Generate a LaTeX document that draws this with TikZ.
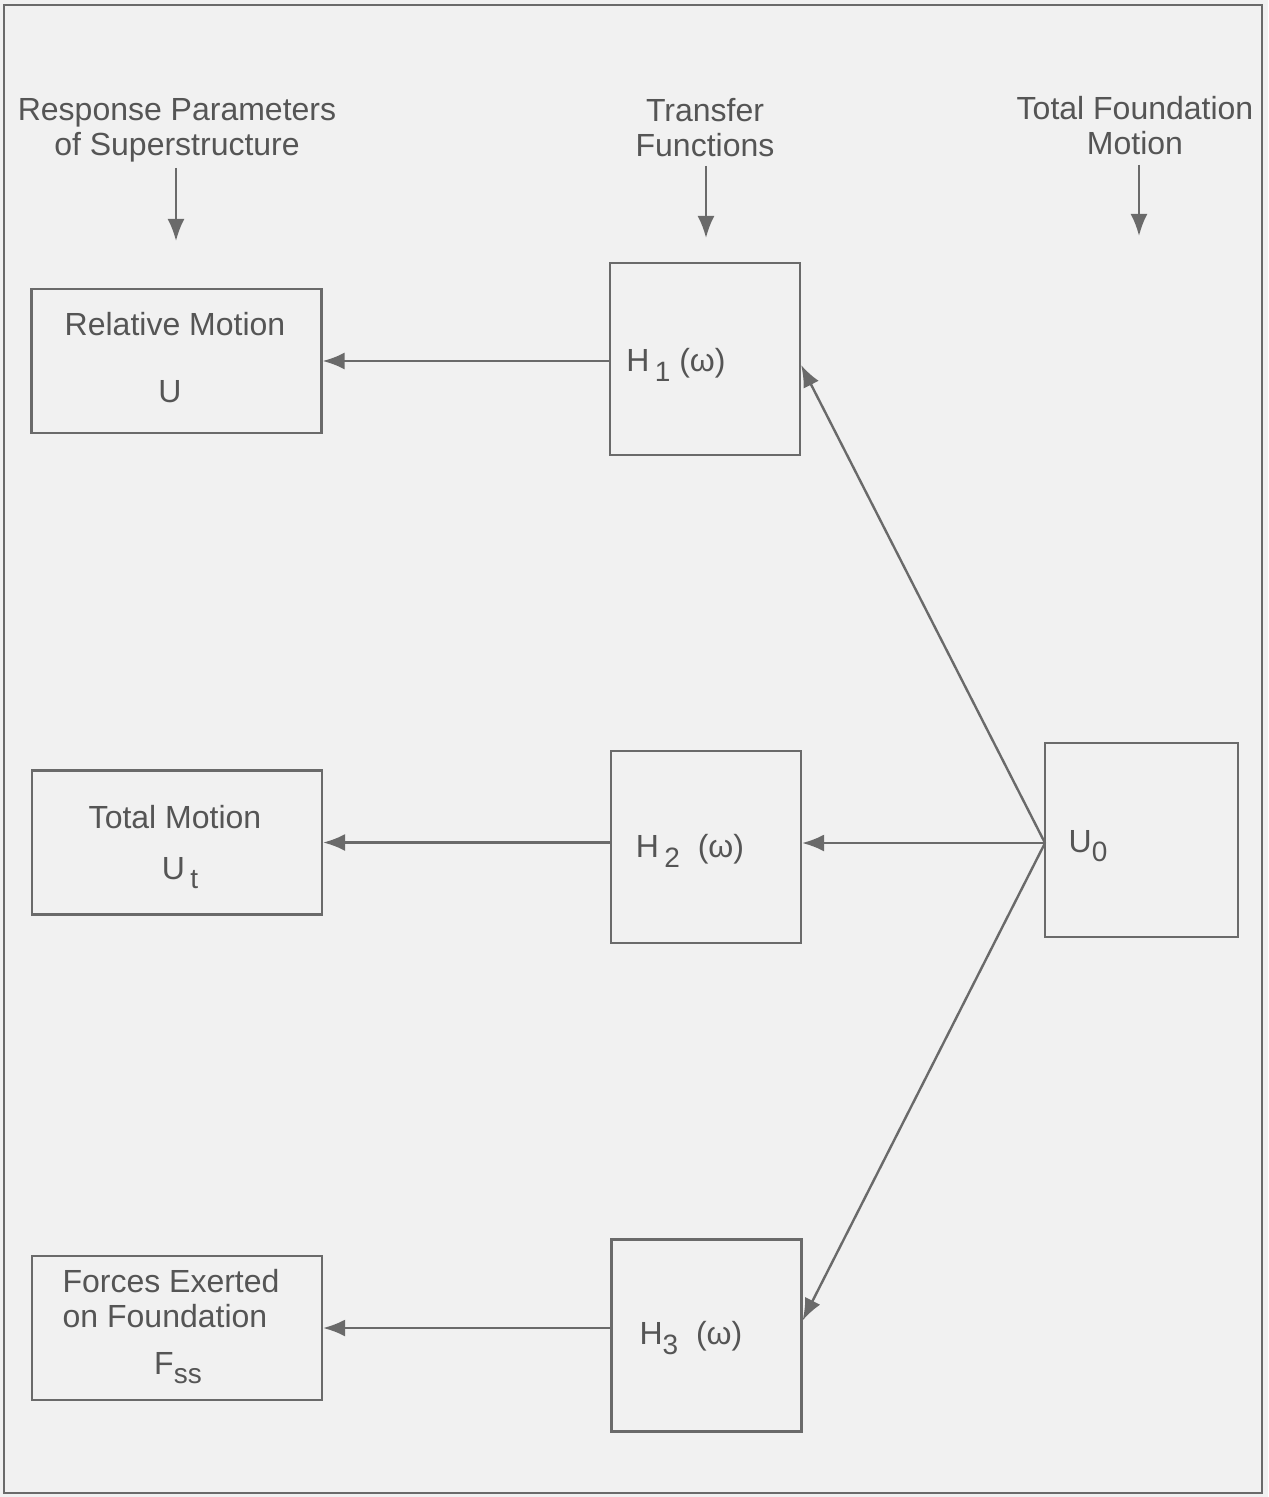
\documentclass[tikz,border=0pt]{standalone}
\usepackage{fontspec}
\setmainfont{Liberation Sans}
\usetikzlibrary{arrows.meta}
\definecolor{bgc}{HTML}{F1F1F1}
\definecolor{linec}{HTML}{6A6A6A}
\definecolor{textc}{HTML}{555555}
\newcommand{\lowsub}[1]{\raisebox{-0.55ex}{\fontsize{14}{14}\selectfont #1}}
\begin{document}
\begin{tikzpicture}[x=0.5pt,y=-0.5pt,
  every node/.style={text=textc, font=\fontsize{16}{17.5}\selectfont, inner sep=0pt},
  sidebox/.style={draw=linec, line width=1.1pt, minimum width=145pt, minimum height=72pt},
  hbox/.style={draw=linec, line width=1.1pt, minimum width=95pt, minimum height=96pt},
  ubox/.style={draw=linec, line width=1.1pt, minimum width=96.5pt, minimum height=97pt},
  conn/.style={draw=linec, line width=1.2pt, -{Latex[length=11pt,width=8.5pt]}},
  heading/.style={align=center}
]
\useasboundingbox (0,0) rectangle (1268,1497);
\fill[bgc] (0,0) rectangle (1268,1497);
\draw[linec, line width=1.1pt] (4,5) rectangle (1262,1493);

% headings
\node[heading] (hd1) at (177,130) {Response Parameters\\of Superstructure};
\node[heading] (hd2) at (705,128) {Transfer\\Functions};
\node[heading] (hd3) at (1135,126) {Total Foundation\\Motion};
\coordinate (a1s) at (176,168); \coordinate (a1e) at (176,241);
\coordinate (a2s) at (706,166); \coordinate (a2e) at (706,238);
\coordinate (a3s) at (1139,165); \coordinate (a3e) at (1139,236);
\draw[conn] (a1s) -- (a1e);
\draw[conn] (a2s) -- (a2e);
\draw[conn] (a3s) -- (a3e);

% left boxes
\node[sidebox] (rel) at (176.5,361) {};
\node (relt) at (175,324) {Relative Motion};
\node (relu) at (170,392) {U};

\node[sidebox] (tot) at (177,842.5) {};
\node (tott) at (175,817) {Total Motion};
\node (totu) at (180,873) {U\,\lowsub{t}};

\node[sidebox] (fss) at (177,1328) {};
\node (fsst1) at (171,1281) {Forces Exerted};
\node (fsst2) at (165,1316) {on Foundation};
\node (fssf) at (178,1368) {F\lowsub{ss}};

% transfer function boxes
\node[hbox] (h1) at (705,359) {};
\node (h1t) at (676,365) {H\,\lowsub{1}\;(ω)};
\node[hbox] (h2) at (706,847) {};
\node (h2t) at (690,851) {H\,\lowsub{2}\;\;(ω)};
\node[hbox] (h3) at (706.5,1335.5) {};
\node (h3t) at (691,1338) {H\lowsub{3}\;\;(ω)};

% foundation box
\node[ubox] (u0) at (1141.5,840) {};
\node (u0t) at (1088,846) {U\lowsub{0}};
\coordinate (src) at (1045,843);

% connectors
\draw[conn] (h1.west |- rel.east) -- (rel.east);
\draw[conn] (h2.west |- tot.east) -- (tot.east);
\draw[conn] (h3.west |- fss.east) -- (fss.east);
\draw[conn] (src) -- (h2.east |- src);
\draw[conn] (src) -- ([yshift=-3pt]h1.east);
\draw[conn] (src) -- ([yshift=7.5pt]h3.east);
\end{tikzpicture}
\end{document}
